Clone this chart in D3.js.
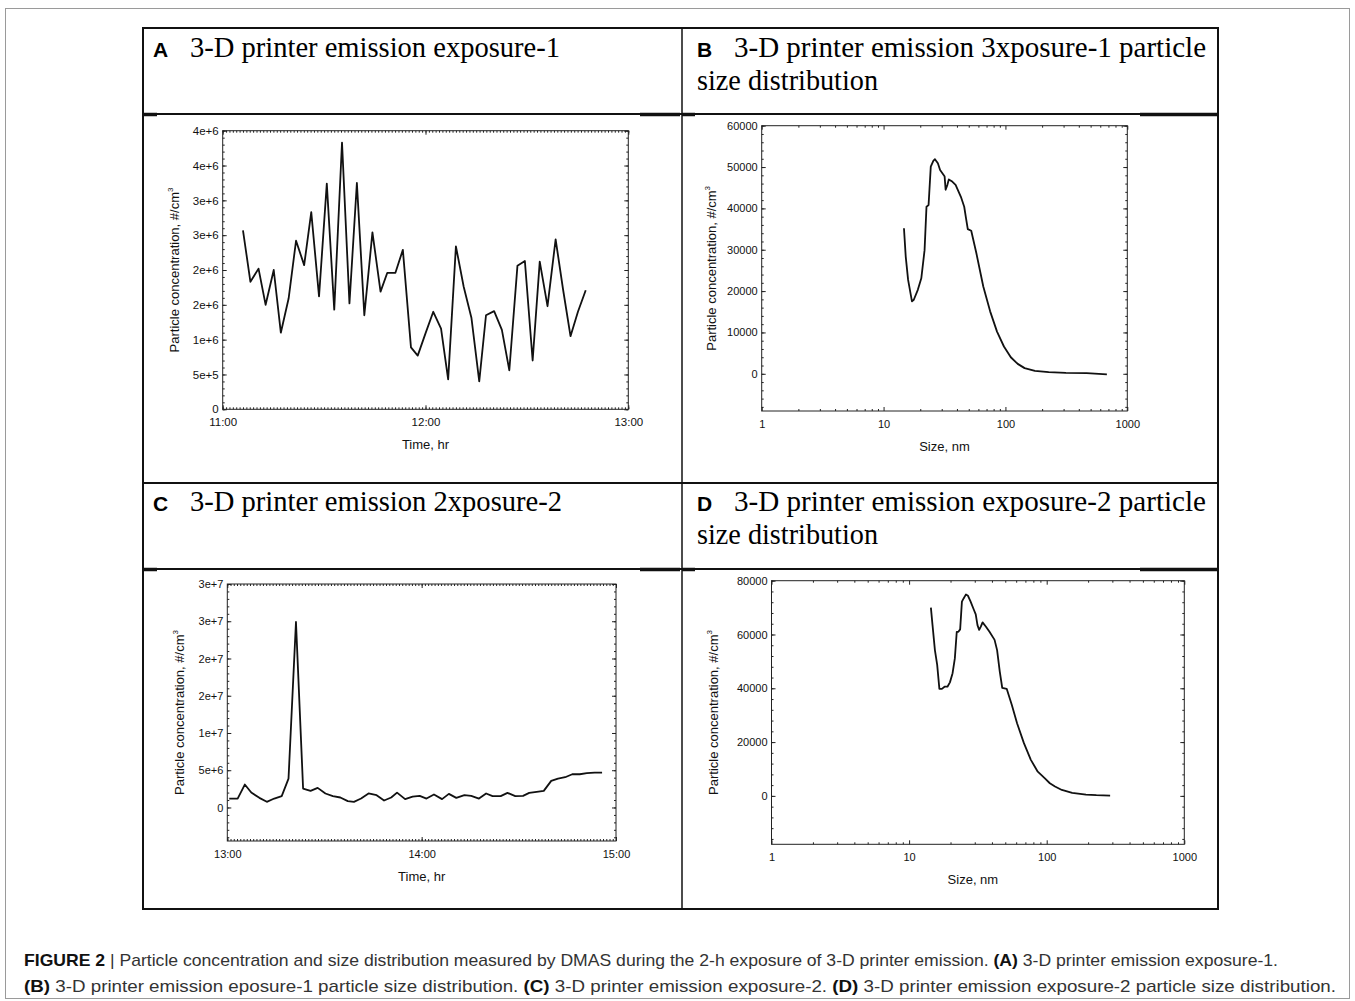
<!DOCTYPE html>
<html>
<head>
<meta charset="utf-8">
<script src="https://cdn.jsdelivr.net/npm/d3@7"></script>
<style>
  body { margin: 0; background: #fff; }
</style>
</head>
<body>
<div id="fig"></div>
<script>
// --- panel A: exposure-1, minutes after 11:00 ---
const aMinutes = [6.0, 8.2, 10.6, 12.7, 15.1, 17.2, 19.5, 21.7, 24.1, 26.2, 28.5, 30.8, 33.0, 35.3, 37.5, 39.7,
  41.9, 44.3, 46.7, 48.7, 51.1, 53.3, 55.7, 57.7, 60.0, 62.3, 64.6, 66.7, 69.0, 71.3, 73.6, 75.9, 77.9, 80.3,
  82.6, 84.8, 87.2, 89.4, 91.7, 93.8, 96.1, 98.5, 100.7, 102.9, 105.1, 107.4];
const aConc = [2.57e6, 1.83e6, 2.02e6, 1.50e6, 2.00e6, 1.10e6, 1.59e6, 2.42e6, 2.07e6, 2.83e6, 1.62e6, 3.24e6,
  1.43e6, 3.83e6, 1.52e6, 3.25e6, 1.35e6, 2.54e6, 1.69e6, 1.96e6, 1.96e6, 2.29e6, 0.89e6, 0.77e6, 1.09e6,
  1.40e6, 1.16e6, 0.43e6, 2.34e6, 1.76e6, 1.31e6, 0.40e6, 1.35e6, 1.41e6, 1.14e6, 0.56e6, 2.06e6, 2.13e6,
  0.70e6, 2.12e6, 1.48e6, 2.44e6, 1.72e6, 1.05e6, 1.40e6, 1.71e6];
const aYTicks = [0, 5e5, 1e6, 1.5e6, 2e6, 2.5e6, 3e6, 3.5e6, 4e6];
const aYLabels = ["0", "5e+5", "1e+6", "2e+6", "2e+6", "3e+6", "3e+6", "4e+6", "4e+6"];
const aXTicks = [0, 60, 120];
const aXLabels = ["11:00", "12:00", "13:00"];

// --- panel B: exposure-1 size distribution ---
const bSize = [14.7, 15.2, 15.9, 17.1, 17.7, 19.1, 20.4, 21.7, 22.5, 23.4, 23.7, 24.4, 25.6, 26.4, 27.9, 29.1,
  31.1, 31.7, 32.3, 33.4, 34.3, 36.6, 39.0, 43.1, 45.9, 47.5, 49.1, 52.4, 57.7, 65.8, 74.9, 85.3, 97.2, 110.7,
  126.1, 143.6, 174.6, 226.5, 313.9, 463.6, 680];
const bConc = [35200, 28350, 22700, 17500, 17900, 20300, 23100, 29900, 40400, 40800, 43600, 50100, 51500, 51900,
  50900, 49300, 48100, 47700, 44500, 45700, 47000, 46500, 45700, 42800, 40400, 37600, 35000, 34600, 29200, 21100,
  15100, 10200, 6600, 4000, 2400, 1370, 720, 400, 240, 160, -150];
const bYTicks = [0, 10000, 20000, 30000, 40000, 50000, 60000];
const bYLabels = ["0", "10000", "20000", "30000", "40000", "50000", "60000"];

// --- panel C: exposure-2, minutes after 13:00 ---
const cMinutes = [0.6, 3.2, 5.4, 7.4, 9.9, 12.2, 14.5, 16.8, 18.9, 21.2, 23.4, 25.7, 27.9, 30.3, 32.6, 34.9,
  37.2, 39.1, 41.3, 43.6, 46.1, 48.4, 50.6, 52.4, 54.9, 57.2, 59.4, 61.5, 63.8, 66.3, 68.4, 70.7, 73.2, 75.3,
  77.7, 79.9, 81.9, 84.4, 86.5, 88.9, 91.3, 93.2, 95.5, 97.7, 100.0, 102.1, 104.3, 106.5, 108.8, 111.0, 113.4, 115.7];
const cConc = [1.2e6, 1.2e6, 3.08e6, 2.01e6, 1.29e6, 0.76e6, 1.2e6, 1.52e6, 3.88e6, 2.49e7, 2.54e6, 2.23e6,
  2.63e6, 1.88e6, 1.52e6, 1.34e6, 0.85e6, 0.76e6, 1.2e6, 1.88e6, 1.65e6, 0.94e6, 1.34e6, 2.0e6, 1.12e6, 1.47e6,
  1.56e6, 1.2e6, 1.74e6, 1.12e6, 1.83e6, 1.29e6, 1.65e6, 1.56e6, 1.2e6, 1.88e6, 1.52e6, 1.52e6, 1.96e6, 1.52e6,
  1.56e6, 1.96e6, 2.1e6, 2.23e6, 3.57e6, 3.88e6, 4.06e6, 4.46e6, 4.46e6, 4.6e6, 4.69e6, 4.69e6];
const cYTicks = [0, 5e6, 1e7, 1.5e7, 2e7, 2.5e7, 3e7];
const cYLabels = ["0", "5e+6", "1e+7", "2e+7", "2e+7", "3e+7", "3e+7"];
const cXLabels = ["13:00", "14:00", "15:00"];

// --- panel D: exposure-2 size distribution ---
const dSize = [14.4, 14.8, 15.4, 16.0, 16.6, 17.3, 18.1, 19.0, 19.8, 20.7, 21.5, 22.2, 22.8, 23.5, 24.2, 24.9,
  25.9, 26.8, 27.9, 29.6, 30.5, 31.4, 32.3, 33.2, 34.2, 36.2, 38.4, 41.8, 43.6, 45.6, 47.5, 51.2, 55.8, 60.9,
  68.3, 76.7, 86.1, 96.6, 105.4, 114.9, 128.9, 153.2, 193, 229.6, 289];
const dConc = [70000, 63500, 54200, 48700, 39800, 39800, 40600, 40600, 42200, 45600, 51100, 61000, 61000, 61900,
  72200, 73400, 74900, 74400, 72400, 69100, 67500, 63500, 61700, 62900, 64500, 62900, 61000, 58000, 54200, 46200,
  40200, 39800, 33800, 27000, 19600, 13400, 9000, 6600, 4700, 3500, 2200, 1100, 500, 250, 120];
const dYTicks = [0, 20000, 40000, 60000, 80000];
const dYLabels = ["0", "20000", "40000", "60000", "80000"];

const logTicks = [1, 10, 100, 1000];
const logLabels = ["1", "10", "100", "1000"];

const width = 1355;
const height = 1001;

const svg = d3.select("#fig")
  .append("svg")
  .attr("width", width)
  .attr("height", height);

// ramka calej ilustracji
svg.append("rect")
  .attr("x", 5.5).attr("y", 8.5)
  .attr("width", 1344).attr("height", 990)
  .attr("fill", "none").attr("stroke", "#9a9a9a").attr("stroke-width", 1);

// tabela 2x2 z naglowkami
const tbl = svg.append("g").attr("stroke", "#111").attr("fill", "none");
[28, 114, 483, 569, 909].forEach(yy => {
  tbl.append("line").attr("x1", 142).attr("x2", 1219).attr("y1", yy).attr("y2", yy).attr("stroke-width", 2);
});
tbl.append("line").attr("x1", 143).attr("x2", 143).attr("y1", 27).attr("y2", 910).attr("stroke-width", 2);
tbl.append("line").attr("x1", 1218).attr("x2", 1218).attr("y1", 27).attr("y2", 910).attr("stroke-width", 2);
tbl.append("line").attr("x1", 682).attr("x2", 682).attr("y1", 28).attr("y2", 909).attr("stroke-width", 1.5);
// grubsze kawalki linii nad wykresami
[114, 569].forEach(yy => {
  [[143, 157], [640, 680], [682, 695], [1140, 1218]].forEach(s => {
    tbl.append("line").attr("x1", s[0]).attr("x2", s[1]).attr("y1", yy + 0.5).attr("y2", yy + 0.5).attr("stroke-width", 3.5);
  });
});

function header(letter, x, y, line1, len1, line2, len2) {
  svg.append("text").attr("x", x).attr("y", y)
    .attr("font-family", "Liberation Sans, Arial, sans-serif").attr("font-weight", "bold")
    .attr("font-size", 21).text(letter);
  svg.append("text").attr("x", x + 37).attr("y", y)
    .attr("font-family", "Liberation Serif, Times New Roman, serif").attr("font-size", 30)
    .attr("textLength", len1).attr("lengthAdjust", "spacingAndGlyphs").text(line1);
  if (line2) {
    svg.append("text").attr("x", x).attr("y", y + 33)
      .attr("font-family", "Liberation Serif, Times New Roman, serif").attr("font-size", 30)
      .attr("textLength", len2).attr("lengthAdjust", "spacingAndGlyphs").text(line2);
  }
}
header("A", 153, 57, "3-D printer emission exposure-1", 370);
header("B", 697, 57, "3-D printer emission 3xposure-1 particle", 472, "size distribution", 181);
header("C", 153, 511, "3-D printer emission 2xposure-2", 372);
header("D", 697, 511, "3-D printer emission exposure-2 particle", 472, "size distribution", 181);

function range(a, b, step) {
  return d3.range(a, b + step / 2, step);
}
const logMinor = [];
[1, 10, 100].forEach(dec => { for (let k = 2; k <= 9; k++) logMinor.push(dec * k); });

// rysowanie jednego wykresu
function panel(p) {
  const g = svg.append("g");
  const x = p.log
    ? d3.scaleLog().domain(p.xDomain).range([p.x0, p.x1])
    : d3.scaleLinear().domain(p.xDomain).range([p.x0, p.x1]);
  const y = d3.scaleLinear().domain(p.yDomain).range([p.y1, p.y0]);

  const style = sel => {
    sel.select(".domain").remove();
    sel.selectAll("line").attr("stroke", "#222");
    sel.attr("font-family", "Liberation Sans, Arial, sans-serif").attr("font-size", p.fs);
    sel.selectAll("text").attr("fill", "#111");
  };

  // male kreski na wszystkich bokach (do srodka)
  g.append("g").attr("transform", `translate(0,${p.y1})`)
    .call(d3.axisBottom(x).tickValues(p.xMinor).tickSize(-2).tickFormat("")).call(style);
  g.append("g").attr("transform", `translate(0,${p.y0})`)
    .call(d3.axisTop(x).tickValues(p.xMinor).tickSize(-2).tickFormat("")).call(style);
  g.append("g").attr("transform", `translate(${p.x0},0)`)
    .call(d3.axisLeft(y).tickValues(p.yMinor).tickSize(-2).tickFormat("")).call(style);
  g.append("g").attr("transform", `translate(${p.x1},0)`)
    .call(d3.axisRight(y).tickValues(p.yMinor).tickSize(-2).tickFormat("")).call(style);

  // glowne kreski z opisami
  g.append("g").attr("transform", `translate(0,${p.y1})`)
    .call(d3.axisBottom(x).tickValues(p.xTicks).tickFormat((d, i) => p.xLabels[i]).tickSize(-4).tickPadding(9))
    .call(style);
  g.append("g").attr("transform", `translate(0,${p.y0})`)
    .call(d3.axisTop(x).tickValues(p.xTicks).tickFormat("").tickSize(-4)).call(style);
  g.append("g").attr("transform", `translate(${p.x0},0)`)
    .call(d3.axisLeft(y).tickValues(p.yTicks).tickFormat((d, i) => p.yLabels[i]).tickSize(-4).tickPadding(4))
    .call(style);
  g.append("g").attr("transform", `translate(${p.x1},0)`)
    .call(d3.axisRight(y).tickValues(p.yTicks).tickFormat("").tickSize(-4)).call(style);

  g.append("rect")
    .attr("x", p.x0).attr("y", p.y0)
    .attr("width", p.x1 - p.x0).attr("height", p.y1 - p.y0)
    .attr("fill", "none").attr("stroke", "#222").attr("stroke-width", 1);

  const line = d3.line().x(d => x(d[0])).y(d => y(d[1]));
  g.append("path")
    .datum(d3.zip(p.xs, p.ys))
    .attr("d", line)
    .attr("fill", "none").attr("stroke", "#111")
    .attr("stroke-width", 1.8).attr("stroke-linejoin", "round");

  // opisy osi
  g.append("text")
    .attr("x", (p.x0 + p.x1) / 2 + (p.xTitleShift || 0)).attr("y", p.y1 + 40)
    .attr("text-anchor", "middle")
    .attr("font-family", "Liberation Sans, Arial, sans-serif").attr("font-size", 13)
    .attr("fill", "#111").text(p.xTitle);

  const yt = g.append("text")
    .attr("transform", `translate(${p.yTitleX},${(p.y0 + p.y1) / 2}) rotate(-90)`)
    .attr("text-anchor", "middle")
    .attr("font-family", "Liberation Sans, Arial, sans-serif").attr("font-size", 13)
    .attr("fill", "#111");
  yt.append("tspan").text("Particle concentration, #/cm");
  yt.append("tspan").attr("dy", -6).attr("font-size", 8).text("3");
}

panel({
  x0: 222.7, x1: 628.3, y0: 130.7, y1: 409.3, fs: 11.5,
  xDomain: [0, 120], yDomain: [0, 4e6],
  xTicks: aXTicks, xLabels: aXLabels, xMinor: range(0, 120, 1),
  yTicks: aYTicks, yLabels: aYLabels, yMinor: range(0, 4e6, 1e5),
  xs: aMinutes, ys: aConc, xTitle: "Time, hr", yTitleX: 179
});

panel({
  x0: 761.7, x1: 1127.3, y0: 125.7, y1: 411, fs: 11, log: true,
  xDomain: [1, 1000], yDomain: [-9000, 60000],
  xTicks: logTicks, xLabels: logLabels, xMinor: logMinor,
  yTicks: bYTicks, yLabels: bYLabels, yMinor: range(-8000, 60000, 2000),
  xs: bSize, ys: bConc, xTitle: "Size, nm", yTitleX: 716
});

panel({
  x0: 227.3, x1: 616, y0: 584, y1: 841, fs: 11,
  xDomain: [0, 120], yDomain: [-4.5e6, 3e7],
  xTicks: aXTicks, xLabels: cXLabels, xMinor: range(0, 120, 1),
  yTicks: cYTicks, yLabels: cYLabels, yMinor: range(-4e6, 3e7, 1e6),
  xs: cMinutes, ys: cConc, xTitle: "Time, hr", yTitleX: 184
});

panel({
  x0: 771.5, x1: 1184.3, y0: 580.7, y1: 844.3, fs: 11, log: true,
  xDomain: [1, 1000], yDomain: [-18000, 80000],
  xTicks: logTicks, xLabels: logLabels, xMinor: logMinor,
  yTicks: dYTicks, yLabels: dYLabels, yMinor: range(-16000, 80000, 4000),
  xs: dSize, ys: dConc, xTitle: "Size, nm", yTitleX: 718, xTitleShift: -5
});

// podpis pod rysunkiem
const cap1 = svg.append("text").attr("x", 24).attr("y", 966)
  .attr("font-family", "Liberation Sans, Arial, sans-serif").attr("font-size", 17)
  .attr("fill", "#333").attr("textLength", 1254).attr("lengthAdjust", "spacingAndGlyphs");
cap1.append("tspan").attr("font-weight", "bold").attr("fill", "#111").text("FIGURE 2 ");
cap1.append("tspan").text("| Particle concentration and size distribution measured by DMAS during the 2-h exposure of 3-D printer emission. ");
cap1.append("tspan").attr("font-weight", "bold").attr("fill", "#111").text("(A)");
cap1.append("tspan").text(" 3-D printer emission exposure-1.");

const cap2 = svg.append("text").attr("x", 24).attr("y", 992)
  .attr("font-family", "Liberation Sans, Arial, sans-serif").attr("font-size", 17)
  .attr("fill", "#333").attr("textLength", 1312).attr("lengthAdjust", "spacingAndGlyphs");
cap2.append("tspan").attr("font-weight", "bold").attr("fill", "#111").text("(B)");
cap2.append("tspan").text(" 3-D printer emission eposure-1 particle size distribution. ");
cap2.append("tspan").attr("font-weight", "bold").attr("fill", "#111").text("(C)");
cap2.append("tspan").text(" 3-D printer emission exposure-2. ");
cap2.append("tspan").attr("font-weight", "bold").attr("fill", "#111").text("(D)");
cap2.append("tspan").text(" 3-D printer emission exposure-2 particle size distribution.");
</script>
</body>
</html>
